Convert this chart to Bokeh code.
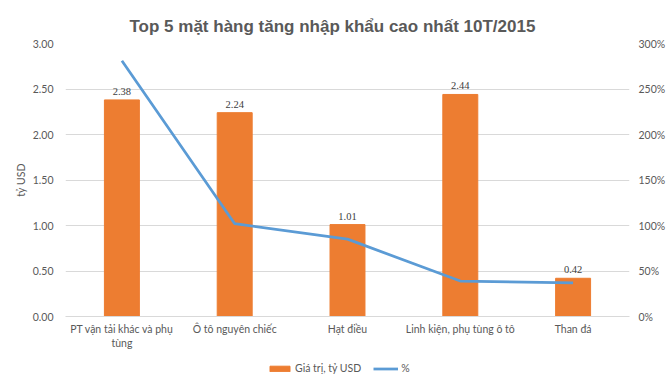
from bokeh.plotting import figure
from bokeh.layouts import column
from bokeh.models import (ColumnDataSource, Range1d, LinearAxis,
                          NumeralTickFormatter, PrintfTickFormatter,
                          FixedTicker, LabelSet, Legend, LegendItem)
from bokeh.embed import file_html
from bokeh.resources import INLINE

# ---- data ----
categories = ["PT vận tải khác và phụ tùng", "Ô tô nguyên chiếc", "Hạt điều",
              "Linh kiện, phụ tùng ô tô", "Than đá"]
tick_labels = ["PT vận tải khác và phụ\ntùng", "Ô tô nguyên chiếc", "Hạt điều",
               "Linh kiện, phụ tùng ô tô", "Than đá"]
values_busd = [2.38, 2.24, 1.01, 2.44, 0.42]
growth_pct = [281, 102, 85, 39, 37]
left_ticks = [0, 0.5, 1.0, 1.5, 2.0, 2.5, 3.0]
right_ticks = [0, 50, 100, 150, 200, 250, 300]
title_text = "Top 5 mặt hàng tăng nhập khẩu cao nhất 10T/2015"
bar_label = "Giá trị, tỷ USD"
line_label = "%"
y_label = "tỷ USD"

FONT = "Lato"
FS = "10.5px"
GREY = "#595959"
BAR_COLOR = "#ED7D31"
LINE_COLOR = "#5B9BD5"

xpos = [i + 0.5 for i in range(len(categories))]
src = ColumnDataSource(dict(x=xpos, cat=categories, val=values_busd,
                            pct=growth_pct,
                            txt=[f"{v:.2f}" for v in values_busd]))

p = figure(width=668, height=352, x_range=Range1d(0, len(categories)),
           y_range=Range1d(0, 3), output_backend="svg", toolbar_location=None,
           min_border_left=65, min_border_right=39, min_border_top=43,
           min_border_bottom=36)
p.extra_y_ranges = {"pct": Range1d(0, 300)}
p.outline_line_color = None
p.background_fill_color = "white"
p.border_fill_color = "white"

p.title.text = title_text
p.title.align = "left"
p.title.offset = 64
p.title.text_font = "Liberation Sans"
p.title.text_font_size = "17px"
p.title.text_font_style = "bold"
p.title.text_color = GREY
p.title.standoff = 15

bars = p.vbar(x="x", top="val", width=0.31, source=src, fill_color=BAR_COLOR,
              line_color=BAR_COLOR)
line = p.line(x="x", y="pct", source=src, y_range_name="pct",
              line_color=LINE_COLOR, line_width=2.75)

labels = LabelSet(x="x", y="val", text="txt", source=src, y_offset=5,
                  text_align="center", text_baseline="bottom",
                  text_font_size=FS, text_color="#404040", text_font=FONT)
p.add_layout(labels)


def style_axis(ax, standoff):
    ax.axis_line_color = None
    ax.major_tick_line_color = None
    ax.minor_tick_line_color = None
    ax.major_tick_out = 0
    ax.major_tick_in = 0
    ax.minor_tick_out = 0
    ax.minor_tick_in = 0
    ax.major_label_standoff = standoff
    ax.major_label_text_font = FONT
    ax.major_label_text_font_size = FS
    ax.major_label_text_color = GREY


# left axis
ya = p.yaxis[0]
style_axis(ya, 12)
ya.ticker = FixedTicker(ticks=left_ticks)
ya.formatter = NumeralTickFormatter(format="0.00")
ya.axis_label = y_label
ya.axis_label_text_font = FONT
ya.axis_label_text_font_size = FS
ya.axis_label_text_font_style = "normal"
ya.axis_label_text_color = GREY
ya.axis_label_standoff = 3

# right axis
ra = LinearAxis(y_range_name="pct", ticker=FixedTicker(ticks=right_ticks),
                formatter=PrintfTickFormatter(format="%d%%"))
style_axis(ra, 9)
p.add_layout(ra, "right")

# x axis with category names
xa = p.xaxis[0]
style_axis(xa, 6)
xa.axis_line_color = "#D9D9D9"
xa.ticker = FixedTicker(ticks=xpos)
xa.major_label_overrides = dict(zip(xpos, tick_labels))

p.xgrid.grid_line_color = None
p.ygrid.grid_line_color = "#D9D9D9"
p.ygrid.ticker = FixedTicker(ticks=left_ticks)

# ---- legend strip below the chart (same data, drawn outside its visible range) ----
pl = figure(width=668, height=28, x_range=p.x_range, y_range=Range1d(1000, 1001),
            output_backend="svg", toolbar_location=None,
            x_axis_type=None, y_axis_type=None,
            min_border_left=65, min_border_right=39, min_border_top=0,
            min_border_bottom=0)
pl.outline_line_color = None
pl.background_fill_color = "white"
pl.border_fill_color = "white"
pl.xgrid.visible = False
pl.ygrid.visible = False
leg_bar = pl.vbar(x="x", top="val", width=0.31, source=src,
                  fill_color=BAR_COLOR, line_color=BAR_COLOR)
leg_line = pl.line(x="x", y="pct", source=src, line_color=LINE_COLOR,
                   line_width=2.75)

legend = Legend(items=[LegendItem(label=bar_label, renderers=[leg_bar]),
                       LegendItem(label=line_label, renderers=[leg_line])],
                orientation="horizontal", location=(202, 6),
                padding=0, margin=0, spacing=12, glyph_width=25, glyph_height=7,
                label_height=10, label_standoff=3, label_text_font=FONT,
                label_text_font_size=FS, label_text_color=GREY,
                background_fill_alpha=0, border_line_color=None)
pl.add_layout(legend)

layout = column(p, pl, spacing=0)
open("out.html", "w").write(file_html(layout, INLINE))
